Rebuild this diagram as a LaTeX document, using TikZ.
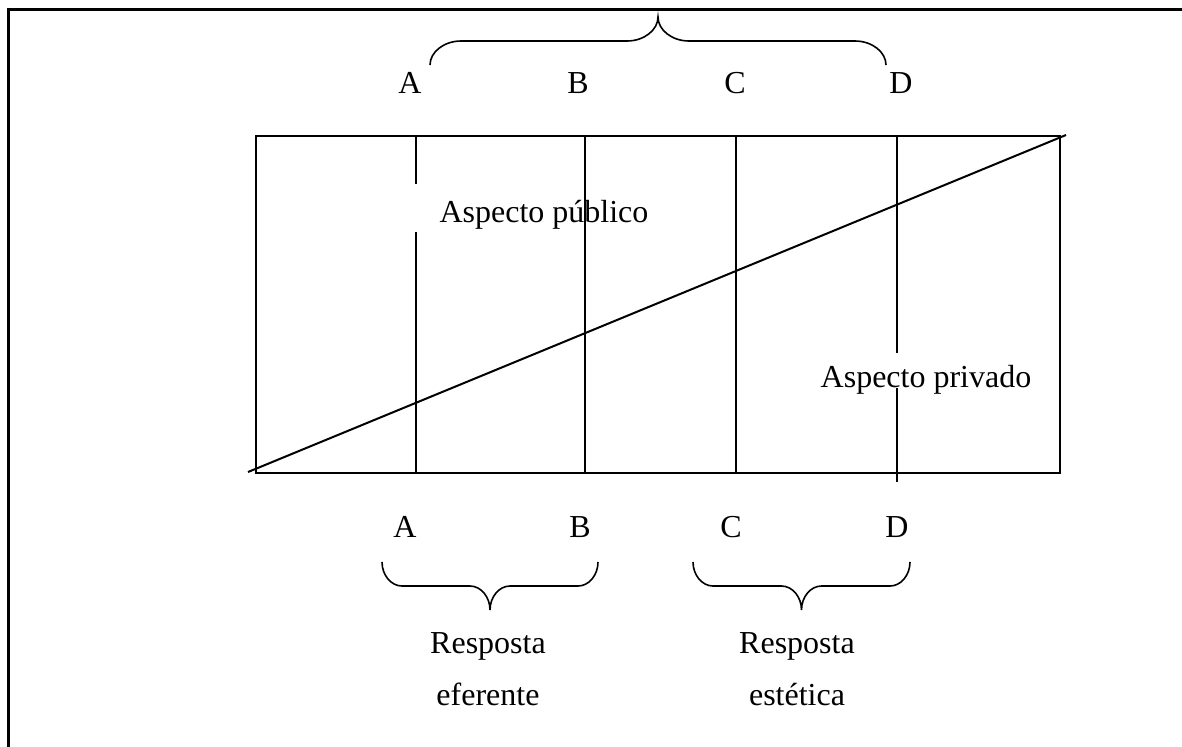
\documentclass[tikz,border=0pt]{standalone}
\usepackage{fontspec}
\setmainfont{Liberation Serif}
\usepackage{tikz}
\usetikzlibrary{calc}
\tikzset{
    frameline/.style={line width=1.5pt, black, line cap=rect},
    boxline/.style={line width=1pt, black},
    cbrace/.style={line width=0.8pt, black},
    letter/.style={font=\fontsize{16}{19}\selectfont, inner sep=0pt},
    aspect/.style={font=\fontsize{16}{19}\selectfont, inner sep=0pt},
    resp/.style={align=center, font=\fontsize{16}{26}\selectfont, inner sep=0pt},
}
% chave: x esquerdo, x direito, y das pontas, sentido (1 = para baixo, -1 = para cima), largura das curvas
\newcommand{\chave}[5]{%
    \pgfmathsetmacro{\chM}{(#1+#2)/2}%
    \pgfmathsetmacro{\chA}{#3+13*#4}%
    \pgfmathsetmacro{\chH}{#3+24*#4}%
    \pgfmathsetmacro{\chB}{#3+35*#4}%
    \pgfmathsetmacro{\chT}{#3+48*#4}%
    \pgfmathsetmacro{\chW}{#5}%
    \pgfmathsetmacro{\chC}{0.45*#5}%
    \draw [cbrace] (#1,#3)
        .. controls (#1,\chA) and ({#1+\chC},\chH) .. ({#1+\chW},\chH)
        -- ({\chM-\chW},\chH)
        .. controls ({\chM-\chC},\chH) and (\chM,\chB) .. (\chM,\chT)
        .. controls (\chM,\chB) and ({\chM+\chC},\chH) .. ({\chM+\chW},\chH)
        -- ({#2-\chW},\chH)
        .. controls ({#2-\chC},\chH) and (#2,\chA) .. (#2,#3);
}

\begin{document}
\begin{tikzpicture}[x=0.5pt, y=-0.5pt]

    \useasboundingbox (0,0) rectangle (1182,746);

    % -- moldura da página --------------------------------
    \draw [frameline] (8,746) -- (8,9) -- (1182,9);

    % -- letras de cima e chave ---------------------------
    \node [letter] (topA) at (410,83) {A};
    \node [letter] (topB) at (578,83) {B};
    \node [letter] (topC) at (735,83) {C};
    \node [letter] (topD) at (901,83) {D};
    \chave{430}{886}{65}{-1}{31}

    % -- retângulo e diagonal -----------------------------
    \coordinate (boxNW) at (256,136);
    \coordinate (boxSE) at (1060,473);
    \draw [boxline] (boxNW) rectangle (boxSE);
    \coordinate (diagS) at (248,472);
    \coordinate (diagE) at (1066,135);
    \draw [boxline] (diagS) -- (diagE);

    % -- linhas verticais A B C D -------------------------
    \draw [boxline] (416,136) -- (416,184);
    \draw [boxline] (416,232) -- (416,473);
    \draw [boxline] (585,136) -- (585,473);
    \draw [boxline] (736,136) -- (736,473);
    \draw [boxline] (897,136) -- (897,353);
    \draw [boxline] (897,388) -- (897,482);

    % -- rótulos dentro do retângulo ----------------------
    \node [aspect] (publico) at (544,215) {Aspecto público};
    \node [aspect] (privado) at (926,380) {Aspecto privado};

    % -- letras de baixo e chaves -------------------------
    \node [letter] (botA) at (405,527) {A};
    \node [letter] (botB) at (580,527) {B};
    \node [letter] (botC) at (731,527) {C};
    \node [letter] (botD) at (897,527) {D};
    \chave{382}{598}{562}{1}{20}
    \chave{693}{910}{562}{1}{20}

    \node [resp] (eferente) at (488,669) {Resposta\\eferente};
    \node [resp] (estetica) at (797,669) {Resposta\\estética};

\end{tikzpicture}
\end{document}
